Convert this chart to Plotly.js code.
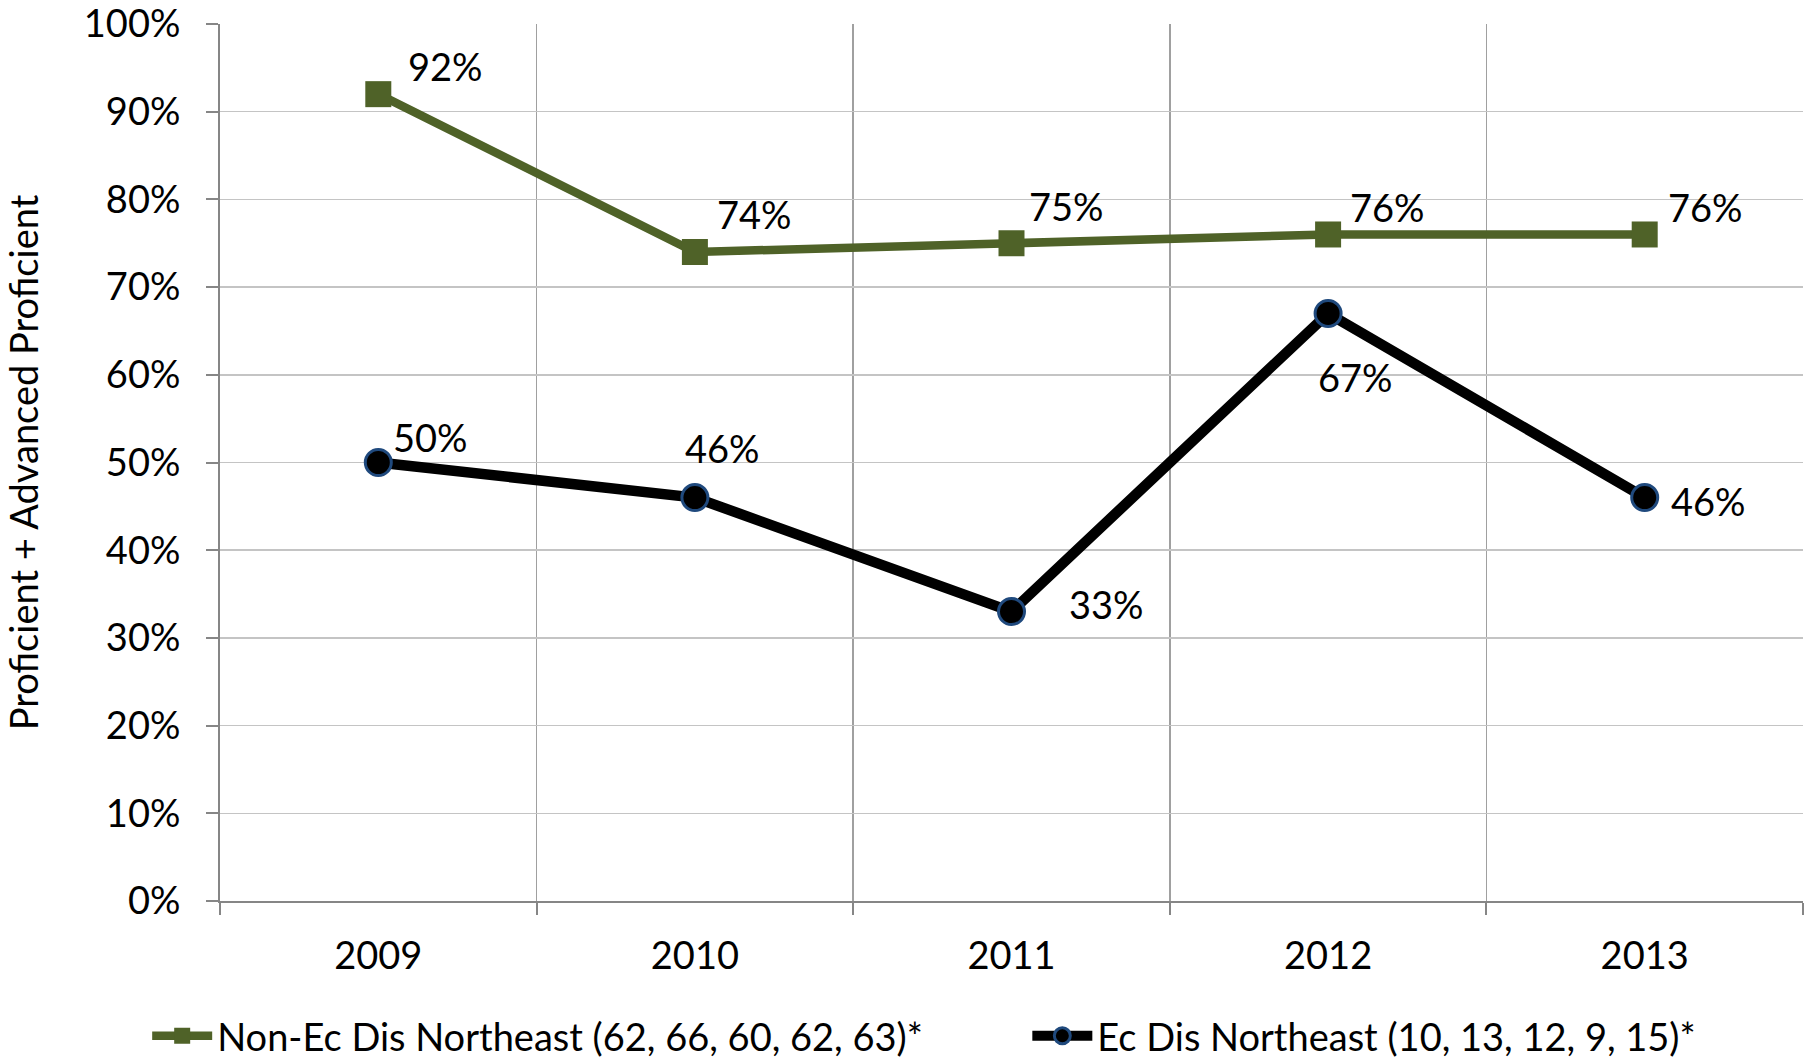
<!DOCTYPE html>
<html>
<head>
<meta charset="utf-8">
<script src="https://cdn.plot.ly/plotly-3.0.1.min.js"></script>
<style>
  body { margin: 0; background: #fff; }
  #chart { width: 1816px; height: 1060px; }
</style>
</head>
<body>
<div id="chart"></div>
<script>
// Chart data
const years = ['2009', '2010', '2011', '2012', '2013'];
const nonEcValues = [0.92, 0.74, 0.75, 0.76, 0.76];
const ecValues = [0.50, 0.46, 0.33, 0.67, 0.46];
const nonEcName = 'Non-Ec Dis Northeast (62, 66, 60, 62, 63)*';
const ecName = 'Ec Dis Northeast (10, 13, 12, 9, 15)*';
const yTickVals = [0, 0.1, 0.2, 0.3, 0.4, 0.5, 0.6, 0.7, 0.8, 0.9, 1];
const yTickText = ['0%', '10%', '20%', '30%', '40%', '50%', '60%', '70%', '80%', '90%', '100%'];

// label offsets (px) for each data label, like the excel placement
const nonEcShift = [[67, -28], [60, -38], [55, -37], [59, -27], [61, -27]];
const ecShift = [[52, -26], [28, -50], [95, -8], [27, 64], [64, 3]];

const FONT = 'Lato, "Open Sans", sans-serif';
const FSIZE = 38;

const traces = [
    {
        x: years,
        y: nonEcValues,
        name: nonEcName,
        legend: 'legend',
        type: 'scatter',
        mode: 'lines+markers',
        line: { color: '#4F6228', width: 8.5 },
        marker: { symbol: 'square', size: 26, color: '#4F6228' },
        hoverinfo: 'y'
    },
    {
        x: years,
        y: ecValues,
        name: ecName,
        legend: 'legend2',
        type: 'scatter',
        mode: 'lines+markers',
        line: { color: '#000000', width: 10.5 },
        marker: { symbol: 'circle', size: 26, color: '#000000', line: { color: '#1F497D', width: 3 } },
        hoverinfo: 'y'
    }
];

// Data labels (x given as category index so '2009' is not read as a number)
const annotations = [];
function addLabels(values, shifts) {
    values.forEach((v, i) => {
        annotations.push({
            x: i, y: v,
            xref: 'x', yref: 'y',
            text: Math.round(v * 100) + '%',
            showarrow: false,
            xshift: shifts[i][0], yshift: -shifts[i][1],
            font: { family: FONT, size: FSIZE, color: '#000' }
        });
    });
}
addLabels(nonEcValues, nonEcShift);
addLabels(ecValues, ecShift);

const legendBase = {
    orientation: 'h',
    y: -0.154, yanchor: 'middle',
    xanchor: 'left',
    font: { family: FONT, size: FSIZE, color: '#000' },
    itemwidth: 60,
    bgcolor: 'rgba(0,0,0,0)'
};

const layout = {
    width: 1816,
    height: 1060,
    margin: { l: 220, r: 13, t: 24, b: 159, autoexpand: false },
    paper_bgcolor: '#ffffff',
    plot_bgcolor: '#ffffff',
    font: { family: FONT, size: FSIZE, color: '#000' },
    showlegend: true,
    legend: Object.assign({}, legendBase, { x: -0.046 }),
    legend2: Object.assign({}, legendBase, { x: 0.510 }),
    xaxis: {
        type: 'category',
        tickson: 'boundaries',
        range: [-0.5, 4.5],
        showgrid: true,
        gridcolor: '#A0A0A0',
        gridwidth: 1.5,
        showline: true,
        linecolor: '#868686',
        linewidth: 2,
        ticks: 'outside',
        ticklen: 12,
        tickcolor: '#868686',
        tickwidth: 2,
        ticklabelstandoff: 20,
        zeroline: false
    },
    yaxis: {
        range: [0, 1],
        tickmode: 'array',
        tickvals: yTickVals,
        ticktext: yTickText,
        showgrid: true,
        gridcolor: '#C4C4C4',
        gridwidth: 1.5,
        showline: true,
        linecolor: '#868686',
        linewidth: 2,
        ticks: 'outside',
        ticklen: 12,
        tickcolor: '#868686',
        tickwidth: 2,
        ticklabelstandoff: 18,
        ticklabeloverflow: 'allow',
        zeroline: false,
        title: { text: 'Proficient + Advanced Proficient', standoff: 42, font: { family: FONT, size: FSIZE } }
    },
    annotations: annotations
};

Plotly.newPlot('chart', traces, layout, { displayModeBar: false, staticPlot: true });
</script>
</body>
</html>
